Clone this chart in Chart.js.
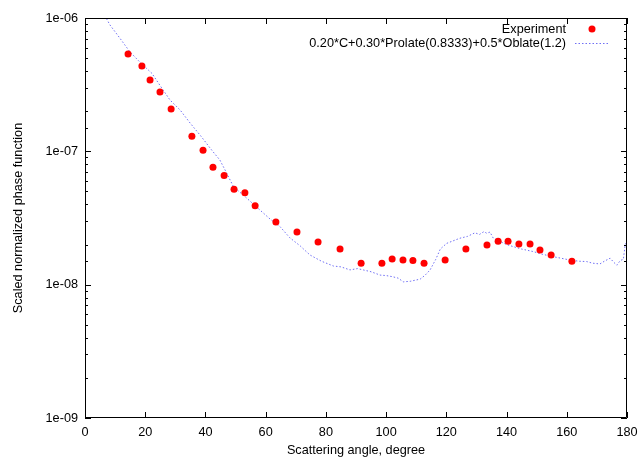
<!DOCTYPE html>
<html>
<head>
<meta charset="utf-8">
<script src="https://cdn.jsdelivr.net/npm/chart.js@4/dist/chart.umd.min.js"></script>
<style>
  html, body { margin: 0; padding: 0; background: #fff; }
  #wrap { width: 638px; height: 458px; position: relative; }
</style>
</head>
<body>
<div id="wrap"><canvas id="myChart" width="638" height="458"></canvas></div>
<script>
// experiment points
const expAngle = [14.3, 18.9, 21.6, 24.9, 28.6, 35.5, 39.2, 42.5, 46.2, 49.5, 53.1, 56.5,
  63.4, 70.4, 77.4, 84.7, 91.7, 98.6, 102.0, 105.6, 108.9, 112.6, 119.6, 126.5,
  133.5, 137.2, 140.5, 144.1, 147.8, 151.1, 154.8, 161.7];
const expValue = [5.37e-7, 4.36e-7, 3.43e-7, 2.79e-7, 2.08e-7, 1.30e-7, 1.02e-7, 7.6e-8, 6.6e-8, 5.2e-8, 4.9e-8, 3.9e-8,
  2.95e-8, 2.48e-8, 2.09e-8, 1.85e-8, 1.45e-8, 1.45e-8, 1.56e-8, 1.53e-8, 1.52e-8, 1.45e-8, 1.53e-8, 1.85e-8,
  1.98e-8, 2.12e-8, 2.12e-8, 2.02e-8, 2.02e-8, 1.82e-8, 1.67e-8, 1.50e-8];

// model curve
const modelAngle = [6.0, 8.3, 11.5, 14.9, 18.5, 22.2, 25.0, 28.2, 31.6, 35.0, 38.5, 42.1, 44.8, 47.0, 49.3, 53.5, 58.1,
  61.5, 64.8, 68.0, 71.5, 74.7, 78.5, 82.5, 85.0, 88.0, 90.5, 92.4, 95.0, 98.0, 100.0, 101.9, 104.0, 105.7,
  108.0, 111.3, 113.0, 114.6, 116.5, 118.0, 120.1, 122.0, 124.5, 127.0, 129.5, 131.0, 132.5, 133.4, 134.5,
  135.6, 138.0, 140.0, 142.2, 145.0, 148.9, 151.5, 154.4, 158.0, 161.1, 164.0, 166.6, 168.5, 171.0,
  172.5, 174.4, 175.5, 176.6, 177.8, 178.8, 179.4, 180.0];
const modelValue = [1.1e-6, 8.86e-7, 7.1e-7, 5.58e-7, 4.6e-7, 3.85e-7, 3.1e-7, 2.43e-7, 2.04e-7, 1.62e-7, 1.3e-7, 1.02e-7, 8.6e-8, 6.9e-8, 5.43e-8, 4.5e-8, 3.63e-8,
  3.1e-8, 2.72e-8, 2.25e-8, 1.95e-8, 1.67e-8, 1.5e-8, 1.38e-8, 1.36e-8, 1.29e-8, 1.32e-8, 1.29e-8, 1.25e-8, 1.18e-8, 1.17e-8, 1.15e-8, 1.12e-8, 1.05e-8,
  1.06e-8, 1.10e-8, 1.18e-8, 1.29e-8, 1.55e-8, 1.85e-8, 2.04e-8, 2.12e-8, 2.23e-8, 2.3e-8, 2.45e-8, 2.38e-8, 2.5e-8, 2.43e-8, 2.48e-8,
  2.23e-8, 2.1e-8, 2.0e-8, 1.93e-8, 1.85e-8, 1.77e-8, 1.7e-8, 1.64e-8, 1.58e-8, 1.53e-8, 1.5e-8, 1.49e-8, 1.45e-8, 1.43e-8,
  1.5e-8, 1.58e-8, 1.48e-8, 1.40e-8, 1.52e-8, 1.55e-8, 2.0e-8, 2.1e-8];

const xTicks = [0, 20, 40, 60, 80, 100, 120, 140, 160, 180];
const yTickLabels = ['1e-09', '1e-08', '1e-07', '1e-06'];

const expLabel = 'Experiment';
const modelLabel = '0.20*C+0.30*Prolate(0.8333)+0.5*Oblate(1.2)';

const fontFamily = "'Liberation Sans', Arial, sans-serif";
const fontSize = 12.7;
const lineColor = '#6f6ff4';
const lineDash = [1.5, 2];

Chart.defaults.font.family = fontFamily;
Chart.defaults.font.size = fontSize;
Chart.defaults.color = '#000';

const isDecade = v => Math.abs(Math.log10(v) - Math.round(Math.log10(v))) < 1e-6;

// gnuplot style frame: inward ticks on all four sides + legend at top right
const frameTicks = {
  id: 'frameTicks',
  afterDatasetsDraw(chart) {
    const { ctx, chartArea: a, scales: { x, y } } = chart;
    ctx.save();
    ctx.strokeStyle = '#000';
    ctx.lineWidth = 1;
    ctx.beginPath();
    ctx.rect(Math.round(a.left) + 0.5, Math.round(a.top) + 0.5,
      Math.round(a.width) - 1, Math.round(a.height) - 1);
    ctx.stroke();

    ctx.beginPath();
    y.ticks.forEach(t => {
      const py = Math.round(y.getPixelForValue(t.value)) + 0.5;
      const len = isDecade(t.value) ? 6 : 3;
      ctx.moveTo(a.left, py); ctx.lineTo(a.left + len, py);
      ctx.moveTo(a.right, py); ctx.lineTo(a.right - len, py);
    });
    xTicks.forEach(v => {
      const px = Math.round(x.getPixelForValue(v)) + 0.5;
      ctx.moveTo(px, a.bottom); ctx.lineTo(px, a.bottom - 6);
      ctx.moveTo(px, a.top); ctx.lineTo(px, a.top + 6);
    });
    ctx.stroke();

    // legend
    ctx.font = fontSize + 'px ' + fontFamily;
    ctx.fillStyle = '#000';
    ctx.textAlign = 'right';
    ctx.textBaseline = 'middle';
    ctx.fillText(expLabel, 566, 29);
    ctx.fillText(modelLabel, 566, 43);
    ctx.fillStyle = '#ff0000';
    ctx.beginPath();
    ctx.arc(592, 29, 3.5, 0, Math.PI * 2);
    ctx.fill();
    ctx.strokeStyle = lineColor;
    ctx.setLineDash(lineDash);
    ctx.beginPath();
    ctx.moveTo(575, 43.5); ctx.lineTo(609, 43.5);
    ctx.stroke();
    ctx.restore();
  }
};

new Chart(document.getElementById('myChart'), {
  type: 'scatter',
  data: {
    datasets: [
      {
        label: modelLabel,
        data: modelAngle.map((a, i) => ({ x: a, y: modelValue[i] })),
        showLine: true,
        borderColor: lineColor,
        borderWidth: 1,
        borderDash: lineDash,
        pointRadius: 0,
        tension: 0,
        order: 2
      },
      {
        label: expLabel,
        data: expAngle.map((a, i) => ({ x: a, y: expValue[i] })),
        backgroundColor: '#ff0000',
        borderColor: '#ff0000',
        pointRadius: 3.5,
        pointBorderWidth: 0,
        order: 1
      }
    ]
  },
  options: {
    responsive: false,
    animation: false,
    layout: { padding: { top: 18, right: 11, left: 0, bottom: 0 } },
    plugins: {
      legend: { display: false },
      tooltip: { enabled: false }
    },
    scales: {
      x: {
        type: 'linear',
        min: 0,
        max: 180,
        afterFit: s => { s.height = 40; s.paddingLeft = 0; s.paddingRight = 0; },
        afterBuildTicks: s => { s.ticks = xTicks.map(v => ({ value: v })); },
        grid: { display: false, drawTicks: false, tickLength: 0 },
        border: { display: false },
        ticks: { padding: 7, maxRotation: 0 },
        title: { display: true, text: 'Scattering angle, degree', padding: { top: 0, bottom: 0 } }
      },
      y: {
        type: 'logarithmic',
        min: 1e-9,
        max: 1e-6,
        afterFit: s => { s.width = 85; s.paddingTop = 0; s.paddingBottom = 0; },
        grid: { display: false, drawTicks: false, tickLength: 0 },
        border: { display: false },
        ticks: {
          autoSkip: false,
          padding: 7,
          callback: v => isDecade(v) ? yTickLabels[Math.round(Math.log10(v)) + 9] : ''
        },
        title: { display: true, text: 'Scaled normalized phase function', padding: { top: 11, bottom: 0 } }
      }
    }
  },
  plugins: [frameTicks]
});
</script>
</body>
</html>
